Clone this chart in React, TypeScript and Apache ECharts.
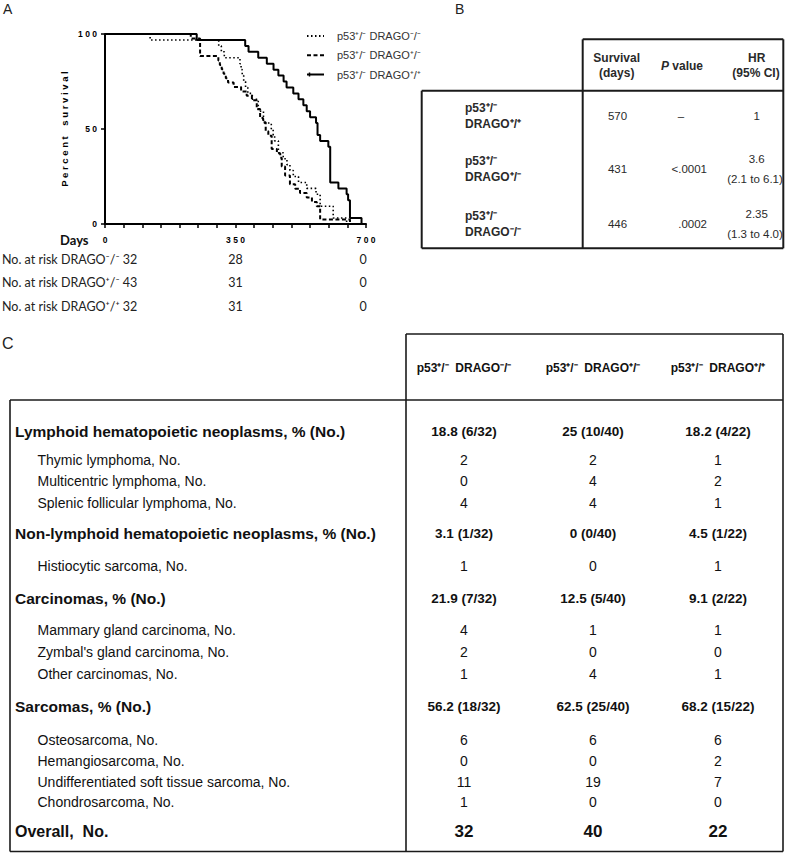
import React, { useEffect, useRef } from 'react';
import * as echarts from 'echarts';

// ---------------- Panel A: Kaplan-Meier data ----------------
const seriesNames = [
  'p53\u207A/\u207B DRAGO\u207B/\u207B',
  'p53\u207A/\u207B DRAGO\u207A/\u207B',
  'p53\u207A/\u207B DRAGO\u207A/\u207A',
];
// [day, percent surviving]
const survivalKO: [number, number][] = [
  [0, 100], [121, 96.875], [305, 93.75], [312, 90.625], [320, 87.5], [362, 84.375],
  [365, 81.25], [368, 78.125], [372, 75], [377, 71.875], [383, 68.75], [395, 65.625],
  [411, 59.375], [425, 53.125], [446, 50], [451, 46.875], [455, 43.75], [465, 37.5],
  [478, 34.375], [488, 31.25], [496, 28.125], [505, 25], [519, 21.875], [541, 18.75],
  [566, 15.625], [577, 9.375], [612, 3.125], [648, 0],
];
const survivalHet: [number, number][] = [
  [0, 100], [230, 97.67], [255, 88.37], [304, 86.05], [308, 83.72], [313, 81.4],
  [318, 79.07], [324, 76.74], [330, 74.42], [345, 72.09], [365, 69.77], [380, 67.44],
  [394, 65.12], [407, 60.47], [416, 55.81], [424, 53.49], [431, 48.84], [438, 46.51],
  [447, 39.53], [461, 37.21], [470, 34.88], [474, 30.23], [483, 25.58], [496, 20.93],
  [510, 18.6], [523, 16.28], [541, 13.95], [555, 11.63], [568, 9.3], [577, 2.33], [657, 0],
];
const survivalWT: [number, number][] = [
  [0, 100], [246, 96.875], [376, 93.75], [385, 90.625], [411, 87.5], [434, 84.375],
  [452, 81.25], [465, 78.125], [479, 75], [487, 71.875], [505, 68.75], [519, 65.625],
  [532, 62.5], [541, 59.375], [550, 56.25], [566, 53.125], [570, 46.875], [577, 43.75],
  [599, 40.625], [604, 21.875], [626, 18.75], [648, 15.625], [652, 12.5], [657, 3.125],
  [688, 0],
];
const dayTicks = [0, 350, 700];
const percentTicks = [0, 50, 100];
const atRiskGroups = ['DRAGO\u207B/\u207B', 'DRAGO\u207A/\u207B', 'DRAGO\u207A/\u207A'];
const atRiskDay0 = [32, 43, 32];
const atRiskDay350 = [28, 31, 31];
const atRiskDay700 = [0, 0, 0];

// ---------------- Panel B: survival table ----------------
const hrGenotypeTop = ['p53\u207A/\u207B', 'p53\u207A/\u207B', 'p53\u207A/\u207B'];
const hrGenotypeBottom = ['DRAGO\u207A/\u207A', 'DRAGO\u207A/\u207B', 'DRAGO\u207B/\u207B'];
const hrSurvivalDays = ['570', '431', '446'];
const hrPValues = ['\u2013', '<.0001', '.0002'];
const hrRatios = ['1', '3.6', '2.35'];
const hrCIs = ['', '(2.1 to 6.1)', '(1.3 to 4.0)'];

// ---------------- Panel C: tumour spectrum table ----------------
const tumorGroups = [
  'p53\u207A/\u207B  DRAGO\u207B/\u207B',
  'p53\u207A/\u207B  DRAGO\u207A/\u207B',
  'p53\u207A/\u207B  DRAGO\u207A/\u207A',
];
const tumorLabels = [
  'Lymphoid hematopoietic neoplasms, % (No.)',
  'Thymic lymphoma, No.',
  'Multicentric lymphoma, No.',
  'Splenic follicular lymphoma, No.',
  'Non-lymphoid hematopoietic neoplasms, % (No.)',
  'Histiocytic sarcoma, No.',
  'Carcinomas, % (No.)',
  'Mammary gland carcinoma, No.',
  "Zymbal's gland carcinoma, No.",
  'Other carcinomas, No.',
  'Sarcomas, % (No.)',
  'Osteosarcoma, No.',
  'Hemangiosarcoma, No.',
  'Undifferentiated soft tissue sarcoma, No.',
  'Chondrosarcoma, No.',
  'Overall,  No.',
];
const tumorKinds = ['head', 'sub', 'sub', 'sub', 'head', 'sub', 'head', 'sub', 'sub', 'sub', 'head', 'sub', 'sub', 'sub', 'sub', 'total'];
const tumorKO = ['18.8 (6/32)', '2', '0', '4', '3.1 (1/32)', '1', '21.9 (7/32)', '4', '2', '1', '56.2 (18/32)', '6', '0', '11', '1', '32'];
const tumorHet = ['25 (10/40)', '2', '4', '4', '0 (0/40)', '0', '12.5 (5/40)', '1', '0', '4', '62.5 (25/40)', '6', '0', '19', '0', '40'];
const tumorWT = ['18.2 (4/22)', '1', '2', '1', '4.5 (1/22)', '1', '9.1 (2/22)', '1', '0', '1', '68.2 (15/22)', '6', '2', '7', '0', '22'];

// ---------------- layout (positions / styles) ----------------
const SANS = '"Liberation Sans", Arial, sans-serif';
const CAL = 'Lato, "Open Sans", sans-serif';
const LINE = '#1a1a1a';
const cRowY = [431, 460, 481, 502.5, 533.5, 566, 598, 630, 651.5, 673.5, 706.5, 740, 761, 782, 802, 831.5];
const cColX = [464, 593, 718];
const bRowY = [116, 169.3, 224];

const spaced = (s: string, sep = ' ') => s.split('').join(sep);

function T(x: number, y: number, text: string, size: number, o: any = {}) {
  return {
    type: 'text',
    x,
    y,
    silent: true,
    scaleX: o.scaleX ?? 1,
    style: {
      text,
      fontSize: size,
      fontWeight: o.bold ? 'bold' : 'normal',
      fontFamily: o.family ?? SANS,
      fill: o.color ?? '#111',
      textAlign: o.align ?? 'left',
      align: o.align ?? 'left',
      textVerticalAlign: 'middle',
      verticalAlign: 'middle',
      rich: o.rich,
    },
  };
}
function L(x1: number, y1: number, x2: number, y2: number, w = 1.6, c = LINE) {
  return { type: 'line', silent: true, shape: { x1, y1, x2, y2 }, style: { stroke: c, lineWidth: w } };
}

function buildOption() {
  const lineSeries = (name: string, data: [number, number][], width: number, type: any) => ({
    name,
    type: 'line',
    step: 'end',
    symbol: 'none',
    data,
    lineStyle: { color: '#000', width, type },
    itemStyle: { color: '#000' },
    emphasis: { disabled: true },
  });
  return {
    animation: false,
    backgroundColor: '#ffffff',
    grid: { left: 105, top: 34, width: 261, height: 190, containLabel: false },
    xAxis: {
      type: 'value',
      min: dayTicks[0],
      max: dayTicks[dayTicks.length - 1],
      interval: dayTicks[1] - dayTicks[0],
      axisLine: { show: true, lineStyle: { color: '#000', width: 2 } },
      axisTick: { show: true, length: 4, lineStyle: { color: '#000', width: 1.5 } },
      minorTick: { show: true, splitNumber: 7, length: 4, lineStyle: { color: '#000', width: 1.5 } },
      splitLine: { show: false },
      minorSplitLine: { show: false },
      axisLabel: {
        formatter: (v: number) => spaced(String(v)),
        fontFamily: SANS, fontWeight: 'bold', fontSize: 8.5, color: '#000', margin: 11,
      },
    },
    yAxis: {
      type: 'value',
      min: percentTicks[0],
      max: percentTicks[percentTicks.length - 1],
      interval: percentTicks[1] - percentTicks[0],
      axisLine: { show: true, lineStyle: { color: '#000', width: 2 } },
      axisTick: { show: true, length: 4, lineStyle: { color: '#000', width: 1.5 } },
      splitLine: { show: false },
      axisLabel: {
        formatter: (v: number) => spaced(String(v)),
        fontFamily: SANS, fontWeight: 'bold', fontSize: 8.5, color: '#000', margin: 8,
      },
      name: spaced('Percent') + '    ' + spaced('survival'),
      nameLocation: 'middle',
      nameGap: 36,
      nameRotate: 90,
      nameTextStyle: { fontFamily: SANS, fontWeight: 'bold', fontSize: 9.5, color: '#000' },
    },
    legend: {
      orient: 'vertical',
      left: 301,
      top: 25.5,
      itemWidth: 17,
      itemHeight: 14,
      itemGap: 8,
      selectedMode: false,
      data: seriesNames,
      itemStyle: { opacity: 0 },
      textStyle: { fontFamily: SANS, fontSize: 11, color: '#333', padding: [0, 0, 0, 8] },
    },
    series: [
      lineSeries(seriesNames[0], survivalKO, 1.6, [1.5, 2.5]),
      lineSeries(seriesNames[1], survivalHet, 2, [4, 2.5]),
      lineSeries(seriesNames[2], survivalWT, 2, 'solid'),
    ],
  };
}

function buildGraphic(px: (d: number) => number) {
  const g: any[] = [];
  // panel letters
  g.push(T(3, 9, 'A', 14, { family: SANS, color: '#222' }));
  g.push(T(455, 9, 'B', 14, { family: SANS, color: '#222' }));
  g.push(T(2, 343, 'C', 16, { family: SANS, color: '#222' }));

  // censor tick on legend solid symbol
  g.push(L(309.5, 72.5, 309.5, 76.5, 1.5, '#000'));

  // Panel A: Days label and numbers at risk
  g.push(T(60, 240, 'Days', 13, { bold: true, family: CAL, color: '#111' }));
  const riskY = [259, 282, 306];
  atRiskGroups.forEach((grp, i) => {
    g.push(T(2, riskY[i], `No. at risk ${grp} ${atRiskDay0[i]}`, 12.5, { family: CAL, color: '#222' }));
    g.push(T(px(dayTicks[1]), riskY[i], String(atRiskDay350[i]), 12.5, { family: CAL, color: '#222', align: 'center' }));
    g.push(T(px(dayTicks[2]) - 3, riskY[i], String(atRiskDay700[i]), 12.5, { family: CAL, color: '#222', align: 'center' }));
  });

  // Panel B table
  const bx0 = 421.7, bx1 = 582.7, bx2 = 783.3, by0 = 39.3, by1 = 90.7, by2 = 248.3;
  g.push(L(bx1, by0, bx2, by0, 2), L(bx1, by0, bx1, by2, 2), L(bx2, by0, bx2, by2, 2));
  g.push(L(bx0, by1, bx2, by1, 2), L(bx0, by1, bx0, by2, 2), L(bx0, by2, bx2, by2, 2));
  const bc = '#2a2a2a';
  g.push(T(616.7, 58.3, 'Survival', 12, { bold: true, align: 'center', color: bc }));
  g.push(T(616.7, 73.3, '(days)', 12, { bold: true, align: 'center', color: bc }));
  g.push(T(682, 66, '{i|P} value', 12, {
    bold: true, align: 'center', color: bc,
    rich: { i: { fontStyle: 'italic', fontWeight: 'bold', fontSize: 12, fontFamily: SANS, fill: bc, color: bc } },
  }));
  g.push(T(756.7, 58.3, 'HR', 12, { bold: true, align: 'center', color: bc }));
  g.push(T(756, 73.3, '(95% CI)', 12, { bold: true, align: 'center', color: bc }));
  bRowY.forEach((y, i) => {
    g.push(T(465, y - 8, hrGenotypeTop[i], 12, { bold: true, color: bc }));
    g.push(T(465, y + 8, hrGenotypeBottom[i], 12, { bold: true, color: bc }));
    g.push(T(617.5, y, hrSurvivalDays[i], 11.5, { align: 'center', color: bc }));
    if (hrPValues[i] === '\u2013') g.push(T(681, y, hrPValues[i], 11.5, { align: 'center', color: bc }));
    else g.push(T(707, y, hrPValues[i], 11.5, { align: 'right', color: bc }));
    if (hrCIs[i]) {
      g.push(T(756.7, y - 10, hrRatios[i], 11.5, { align: 'center', color: bc }));
      g.push(T(755, y + 10, hrCIs[i], 11.5, { align: 'center', color: bc }));
    } else {
      g.push(T(756.7, y, hrRatios[i], 11.5, { align: 'center', color: bc }));
    }
  });

  // Panel C table
  const cx0 = 10, cx1 = 406, cx2 = 783, cy0 = 334, cy1 = 400, cy2 = 851.5;
  g.push(L(cx1, cy0, cx2, cy0), L(cx1, cy0, cx1, cy2), L(cx2, cy0, cx2, cy2));
  g.push(L(cx0, cy1, cx2, cy1), L(cx0, cy1, cx0, cy2), L(cx0, cy2, cx2, cy2));
  tumorGroups.forEach((h, j) => g.push(T(cColX[j], 368, h, 12, { bold: true, align: 'center' })));
  const cols = [tumorKO, tumorHet, tumorWT];
  tumorLabels.forEach((lab, i) => {
    const kind = tumorKinds[i];
    const y = cRowY[i];
    if (kind === 'head') g.push(T(15, y, lab, 15.5, { bold: true }));
    else if (kind === 'total') g.push(T(15, y, lab, 16, { bold: true }));
    else g.push(T(37.5, y, lab, 14));
    cols.forEach((col, j) => {
      if (kind === 'head') g.push(T(cColX[j], y, col[i], 13.5, { bold: true, align: 'center' }));
      else if (kind === 'total') g.push(T(cColX[j], y, col[i], 17, { bold: true, align: 'center' }));
      else g.push(T(cColX[j], y, col[i], 14, { align: 'center' }));
    });
  });
  return g;
}

export default function App() {
  const ref = useRef<HTMLDivElement>(null);
  useEffect(() => {
    const el = ref.current;
    if (!el) return;
    const chart = echarts.init(el, null, { renderer: 'svg' });
    chart.setOption(buildOption() as any);
    const px = (d: number) => chart.convertToPixel({ xAxisIndex: 0 }, d) as unknown as number;
    chart.setOption({ graphic: buildGraphic(px) } as any);
    return () => chart.dispose();
  }, []);
  return (
    <div
      ref={ref}
      style={{ position: 'absolute', left: 0, top: 0, width: 786, height: 853, background: '#fff' }}
    />
  );
}
